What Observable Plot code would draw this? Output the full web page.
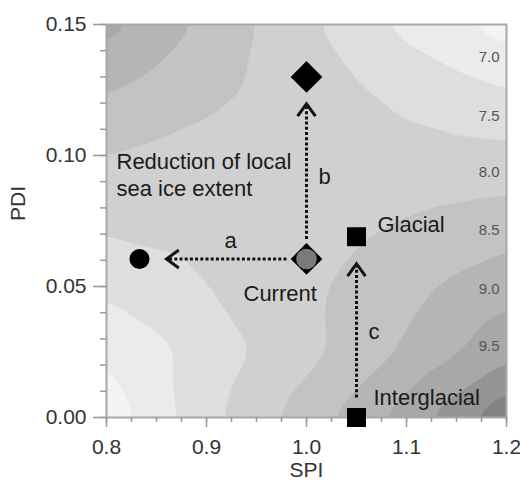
<!DOCTYPE html>
<html>
<head>
<meta charset="utf-8">
<script src="https://cdn.jsdelivr.net/npm/d3@7"></script>
<script src="https://cdn.jsdelivr.net/npm/@observablehq/plot@0.6"></script>
<style>
  html, body { margin: 0; padding: 0; background: #ffffff; }
  #chart svg { display: block; }
</style>
</head>
<body>
<div id="chart"></div>
<script>
// ---------- data ----------
// contour field sampled on a coarse grid (SPI columns x PDI rows)
const gridSPI = [0.80, 0.85, 0.90, 0.95, 1.00, 1.05, 1.10, 1.15, 1.20];
const gridPDI = [0.000, 0.025, 0.050, 0.075, 0.100, 0.125, 0.150];
const gridValues = [
  [6.40, 7.00, 7.60, 8.05, 8.50, 8.99, 9.50, 10.05, 10.70],
  [6.80, 7.12, 7.45, 7.78, 8.10, 8.45, 8.82, 9.20, 9.60],
  [7.35, 7.55, 7.75, 7.95, 8.15, 8.38, 8.62, 8.85, 9.08],
  [7.85, 7.90, 7.95, 8.00, 8.08, 8.17, 8.27, 8.38, 8.48],
  [8.25, 8.15, 8.07, 8.00, 7.95, 7.92, 7.90, 7.88, 7.87],
  [8.80, 8.60, 8.40, 8.20, 8.00, 7.80, 7.60, 7.43, 7.26],
  [9.45, 9.05, 8.65, 8.25, 7.85, 7.45, 7.10, 6.80, 6.50]
];

// contour level labels on the right edge
const contourLevels = [7.0, 7.5, 8.0, 8.5, 9.0, 9.5];
const contourLabelPDI = [0.1374, 0.1149, 0.0935, 0.0714, 0.0489, 0.0271];

// points
const pointName  = ["Current", "Local sea ice", "Increased PDI", "Glacial", "Interglacial"];
const pointSPI   = [1.000, 0.833, 1.000, 1.050, 1.050];
const pointPDI   = [0.0605, 0.0605, 0.1300, 0.0690, 0.0000];
const pointShape = ["diamond2", "circle", "diamond2", "square", "square"];

// arrows (from -> to)
const arrowFrom = ["Current", "Current", "Interglacial"];
const arrowTo   = ["Local sea ice", "Increased PDI", "Glacial"];

// text annotations
const noteText = ["Reduction of local\nsea ice extent", "Current", "Glacial", "Interglacial", "a", "b", "c"];
const noteSPI  = [0.810, 0.937, 1.071, 1.067, 0.918, 1.012, 1.062];
const notePDI  = [0.0931, 0.0477, 0.0742, 0.0080, 0.0679, 0.0924, 0.0332];

// axes
const xTicks = [0.8, 0.9, 1.0, 1.1, 1.2];
const yTicks = [0.00, 0.05, 0.10, 0.15];
const xMinor = d3.range(0, 17).map(i => 0.8 + i * 0.025);
const yMinor = d3.range(0, 16).map(i => i * 0.01);
const xDomain = [0.8, 1.2];
const yDomain = [0, 0.15];

// ---------- layout ----------
const W = 520, H = 487, ML = 106, MR = 14, MT = 24, MB = 70;
const kx = (W - ML - MR) / (xDomain[1] - xDomain[0]);
const ky = (H - MT - MB) / (yDomain[1] - yDomain[0]);
const FONT = "'Liberation Sans', Arial, sans-serif";
const AXIS = "#9a9a9a";

// ---------- derived tables ----------
const grid = gridPDI.flatMap((y, j) => gridSPI.map((x, i) => ({x, y, v: gridValues[j][i]})));
const thresholds = d3.range(0, 10).map(i => 6.25 + i * 0.5);
const points = pointName.map((name, i) => ({name, x: pointSPI[i], y: pointPDI[i], shape: pointShape[i]}));
const byName = new Map(points.map(p => [p.name, p]));
const arrows = arrowFrom.map((f, i) => {
  const a = byName.get(f), b = byName.get(arrowTo[i]);
  return {x1: a.x, y1: a.y, x2: b.x, y2: b.y,
          len: Math.hypot((b.x - a.x) * kx, (b.y - a.y) * ky)};
});
const notes = noteText.map((t, i) => ({t, x: noteSPI[i], y: notePDI[i]}));
const levelLabels = contourLevels.map((v, i) => ({v, y: contourLabelPDI[i]}));

const INSET_START = 20, INSET_END = 27;
const noText = () => "";

const marks = [
  Plot.contour(grid, {x: "x", y: "y", fill: "v", thresholds, interpolate: "barycentric",
                      blur: 5, stroke: "none"}),
  Plot.frame({stroke: "#a8a8a8", strokeWidth: 2}),
  Plot.axisY({ticks: yMinor, tickSize: 6, tickFormat: noText, label: null,
              stroke: AXIS, strokeWidth: 1.5}),
  Plot.axisY({ticks: yTicks, tickSize: 13, tickPadding: 7, tickFormat: d3.format(".2f"),
              label: null, fontSize: 21, stroke: AXIS, strokeWidth: 1.5, fill: "#333"}),
  Plot.axisX({ticks: xMinor, tickSize: 5, tickFormat: noText, label: null,
              stroke: AXIS, strokeWidth: 1.5}),
  Plot.axisX({ticks: xTicks, tickSize: 10, tickPadding: 12, tickFormat: d3.format(".1f"),
              label: null, fontSize: 21, stroke: AXIS, strokeWidth: 1.5, fill: "#333"}),
  Plot.text(["PDI"], {frameAnchor: "left", dx: -88, rotate: -90, fontSize: 21, fill: "#333"}),
  Plot.text(["SPI"], {frameAnchor: "bottom", dy: 59, fontSize: 21, fill: "#333"}),
  Plot.text(levelLabels, {y: "y", text: d => d.v.toFixed(1), frameAnchor: "right", dx: -7,
                          textAnchor: "end", fontSize: 15, fill: "#555"}),
  // dotted shafts
  ...arrows.map(a => Plot.arrow([a], {x1: "x1", y1: "y1", x2: "x2", y2: "y2",
      stroke: "#111", strokeWidth: 3, strokeDasharray: "3 2.2", strokeLinecap: "butt",
      headLength: 0, insetStart: INSET_START, insetEnd: INSET_END})),
  // solid chevron heads
  ...arrows.map(a => Plot.arrow([a], {x1: "x1", y1: "y1", x2: "x2", y2: "y2",
      stroke: "#111", strokeWidth: 3, headLength: 7.6, headAngle: 72,
      strokeLinejoin: "miter", strokeMiterlimit: 4, strokeLinecap: "butt",
      insetStart: a.len - INSET_END - 0.5, insetEnd: INSET_END})),
  Plot.dot(points, {filter: d => d.shape === "diamond2", x: "x", y: "y", symbol: "diamond2", r: 14.3, fill: "#000"}),
  Plot.dot(points, {filter: d => d.shape === "circle", x: "x", y: "y", symbol: "circle", r: 10, fill: "#000"}),
  Plot.dot(points, {filter: d => d.shape === "square", x: "x", y: "y", symbol: "square", r: 10.7, fill: "#000"}),
  Plot.dot(points, {filter: d => d.name === "Current", x: "x", y: "y", symbol: "circle", r: 10.3, fill: "#7a7a7a"}),
  Plot.text(notes, {x: "x", y: "y", text: "t", textAnchor: "start", fontSize: 22,
                    lineHeight: 1.23, fill: "#1a1a1a"})
];

const chart = Plot.plot({
  width: W, height: H,
  marginLeft: ML, marginRight: MR, marginTop: MT, marginBottom: MB,
  style: {fontFamily: FONT, fontSize: "21px", background: "#ffffff", color: "#222"},
  x: {domain: xDomain},
  y: {domain: yDomain},
  color: {type: "linear", domain: [6.25, 6.75, 9.25, 10.75],
          range: ["#f4f4f4", "#ebebeb", "#a8a8a8", "#707070"], interpolate: "rgb"},
  marks
});
document.getElementById("chart").appendChild(chart);
</script>
</body>
</html>
